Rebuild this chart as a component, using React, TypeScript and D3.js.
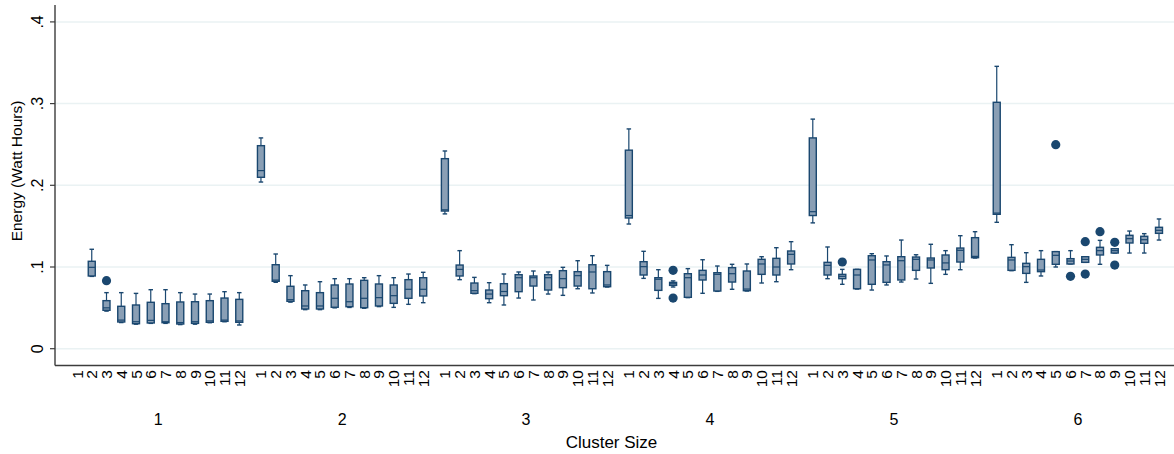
import React from "react";
import * as d3 from "d3";

// [lower whisker, q1, median, q3, upper whisker]; null = no data
type Box = [number, number, number, number, number] | null;

const groupLabels = ["1", "2", "3", "4", "5", "6"];
const categoryLabels = ["1", "2", "3", "4", "5", "6", "7", "8", "9", "10", "11", "12"];
const yTicks = [0, 0.1, 0.2, 0.3, 0.4];
const yTickLabels = ["0", ".1", ".2", ".3", ".4"];

const group1: Box[] = [
  null,
  [0.0885, 0.089, 0.0996, 0.107, 0.1217],
  [0.046, 0.047, 0.05, 0.0588, 0.0686],
  [0.032, 0.0327, 0.035, 0.0519, 0.0686],
  [0.03, 0.0306, 0.033, 0.0535, 0.0677],
  [0.031, 0.0315, 0.0347, 0.0568, 0.0722],
  [0.031, 0.0318, 0.033, 0.0551, 0.0722],
  [0.0295, 0.0302, 0.032, 0.0572, 0.0686],
  [0.03, 0.031, 0.033, 0.0575, 0.0669],
  [0.0318, 0.0323, 0.034, 0.0588, 0.0669],
  [0.033, 0.0335, 0.035, 0.062, 0.0698],
  [0.029, 0.0323, 0.034, 0.0604, 0.0686],
];
const group2: Box[] = [
  [0.204, 0.2098, 0.218, 0.2485, 0.258],
  [0.0813, 0.0825, 0.084, 0.1028, 0.1159],
  [0.057, 0.058, 0.06, 0.0764, 0.0894],
  [0.0478, 0.0486, 0.0523, 0.071, 0.078],
  [0.0478, 0.0486, 0.0523, 0.0686, 0.082],
  [0.05, 0.0507, 0.0617, 0.078, 0.0857],
  [0.0505, 0.0514, 0.0575, 0.0792, 0.0857],
  [0.0495, 0.0502, 0.0617, 0.0837, 0.0869],
  [0.0515, 0.0523, 0.0625, 0.0792, 0.0894],
  [0.0506, 0.0555, 0.0649, 0.078, 0.0869],
  [0.0543, 0.0617, 0.0727, 0.0845, 0.0914],
  [0.0563, 0.0645, 0.0727, 0.0869, 0.0935],
];
const group3: Box[] = [
  [0.165, 0.1685, 0.17, 0.2326, 0.242],
  [0.0845, 0.089, 0.0971, 0.1024, 0.12],
  [0.0674, 0.0678, 0.071, 0.0804, 0.0873],
  [0.0563, 0.0612, 0.0669, 0.0718, 0.0808],
  [0.0535, 0.0649, 0.07, 0.0796, 0.0914],
  [0.062, 0.0698, 0.0869, 0.0906, 0.0939],
  [0.0596, 0.0767, 0.0869, 0.089, 0.0951],
  [0.0669, 0.0718, 0.0869, 0.0906, 0.0939],
  [0.0653, 0.0747, 0.0857, 0.0955, 0.0996],
  [0.0734, 0.0767, 0.0894, 0.0943, 0.1077],
  [0.0682, 0.0734, 0.0939, 0.1028, 0.1138],
  [0.0755, 0.0759, 0.078, 0.0943, 0.102],
];
const group4: Box[] = [
  [0.1526, 0.16, 0.163, 0.243, 0.269],
  [0.0861, 0.0902, 0.1004, 0.1065, 0.1192],
  [0.0616, 0.0714, 0.085, 0.0869, 0.0967],
  [0.0755, 0.0775, 0.0795, 0.0812, 0.083],
  [0.0625, 0.0629, 0.0869, 0.0918, 0.098],
  [0.0678, 0.0841, 0.0902, 0.0959, 0.1089],
  [0.0702, 0.0706, 0.091, 0.093, 0.1012],
  [0.0727, 0.0816, 0.0918, 0.0992, 0.1033],
  [0.0706, 0.071, 0.073, 0.0951, 0.1037],
  [0.0804, 0.091, 0.1037, 0.1094, 0.1126],
  [0.082, 0.0902, 0.1, 0.1106, 0.1236],
  [0.0967, 0.1037, 0.1155, 0.1196, 0.131],
];
const group5: Box[] = [
  [0.154, 0.163, 0.1677, 0.258, 0.281],
  [0.0857, 0.0902, 0.102, 0.1057, 0.1245],
  [0.0788, 0.0857, 0.0886, 0.091, 0.0971],
  [0.073, 0.0734, 0.0902, 0.0971, 0.0971],
  [0.0718, 0.0788, 0.1086, 0.1138, 0.1163],
  [0.078, 0.0812, 0.1025, 0.1065, 0.1135],
  [0.0816, 0.0841, 0.1077, 0.1126, 0.133],
  [0.0853, 0.0959, 0.1094, 0.1122, 0.115],
  [0.08, 0.0988, 0.1086, 0.111, 0.1278],
  [0.091, 0.0967, 0.105, 0.1147, 0.12],
  [0.0967, 0.1061, 0.1204, 0.1232, 0.1383],
  [0.111, 0.1114, 0.113, 0.1359, 0.1432],
];
const group6: Box[] = [
  [0.1547, 0.1645, 0.166, 0.3016, 0.3456],
  [0.0955, 0.0959, 0.1086, 0.1118, 0.1273],
  [0.0812, 0.0922, 0.1004, 0.1045, 0.1175],
  [0.089, 0.0943, 0.0963, 0.1094, 0.12],
  [0.1, 0.1033, 0.1143, 0.1188, 0.1188],
  [0.1037, 0.1037, 0.1073, 0.1102, 0.12],
  [0.1057, 0.1057, 0.1094, 0.1126, 0.1126],
  [0.1033, 0.1147, 0.12, 0.1241, 0.1326],
  [0.1171, 0.1171, 0.12, 0.1224, 0.1224],
  [0.1171, 0.1294, 0.1347, 0.1388, 0.144],
  [0.1171, 0.129, 0.1334, 0.1376, 0.1408],
  [0.133, 0.1412, 0.1449, 0.1486, 0.1588],
];
const groups: Box[][] = [group1, group2, group3, group4, group5, group6];

// outliers: [group index, category index, value]
const outlierGroup = [0, 3, 3, 4, 5, 5, 5, 5, 5, 5, 5];
const outlierCategory = [2, 3, 3, 2, 4, 5, 6, 6, 7, 8, 8];
const outlierValue = [0.0833, 0.0959, 0.062, 0.1061, 0.2497, 0.0886, 0.131, 0.0914, 0.1432, 0.1302, 0.1024];

const W = 1174;
const H = 454;
const FONT = "'Liberation Sans', Arial, Helvetica, sans-serif";
const NAVY = "#1a476f";
const FILL = "#8a9fb5";
const GROUP_PITCH = 12.47;

export default function App() {
  const y = d3.scaleLinear().domain([0, 0.4]).range([348.7, 21.9]);
  const x = d3
    .scaleLinear()
    .domain([0, (groups.length - 1) * GROUP_PITCH + 11])
    .range([77, 1159]);
  const pos = (g: number, k: number) => x(g * GROUP_PITCH + k);
  const boxW = 7;
  const capW = 4.5;
  const axisY = 365.5;
  const axisX = 55;

  return (
    <svg
      width={W}
      height={H}
      style={{ position: "absolute", left: 0, top: 0, background: "#fff" }}
      fontFamily={FONT}
    >
      <rect x={0} y={0} width={W} height={H} fill="#ffffff" />
      {/* grid */}
      {yTicks.map((t, i) => (
        <line key={"g" + i} x1={axisX} x2={W} y1={y(t)} y2={y(t)} stroke="#eaf2f3" strokeWidth={1.5} />
      ))}
      {/* boxes */}
      {groups.map((grp, g) =>
        grp.map((b, k) => {
          if (!b) return null;
          const cx = pos(g, k);
          const [lo, q1, med, q3, hi] = b;
          return (
            <g key={`b${g}-${k}`}>
              <line x1={cx} x2={cx} y1={y(hi)} y2={y(q3)} stroke={NAVY} strokeWidth={1.2} />
              <line x1={cx} x2={cx} y1={y(q1)} y2={y(lo)} stroke={NAVY} strokeWidth={1.2} />
              <line x1={cx - capW / 2} x2={cx + capW / 2} y1={y(hi)} y2={y(hi)} stroke={NAVY} strokeWidth={1.4} />
              <line x1={cx - capW / 2} x2={cx + capW / 2} y1={y(lo)} y2={y(lo)} stroke={NAVY} strokeWidth={1.4} />
              <rect
                x={cx - boxW / 2}
                y={y(q3)}
                width={boxW}
                height={Math.max(1, y(q1) - y(q3))}
                fill={FILL}
                stroke={NAVY}
                strokeWidth={1.4}
              />
              <line x1={cx - boxW / 2} x2={cx + boxW / 2} y1={y(med)} y2={y(med)} stroke={NAVY} strokeWidth={1.2} />
            </g>
          );
        })
      )}
      {/* outliers */}
      {outlierValue.map((v, i) => (
        <circle key={"o" + i} cx={pos(outlierGroup[i], outlierCategory[i])} cy={y(v)} r={4.6} fill={NAVY} />
      ))}
      {/* axes */}
      <line x1={axisX} x2={axisX} y1={5} y2={axisY} stroke="#3c3c3c" strokeWidth={1.4} />
      <line x1={axisX} x2={W} y1={axisY} y2={axisY} stroke="#3c3c3c" strokeWidth={1.4} />
      {yTicks.map((t, i) => (
        <g key={"yt" + i}>
          <line x1={axisX - 5} x2={axisX} y1={y(t)} y2={y(t)} stroke="#3c3c3c" strokeWidth={1.2} />
          <text
            transform={`translate(43,${y(t)}) rotate(-90)`}
            textAnchor="middle"
            fontSize={16}
            fill="#000"
          >
            {yTickLabels[i]}
          </text>
        </g>
      ))}
      <text transform="translate(22,171) rotate(-90)" textAnchor="middle" fontSize={15.5} fill="#000">
        Energy (Watt Hours)
      </text>
      {/* category labels */}
      {groups.map((grp, g) =>
        categoryLabels.map((lab, k) => (
          <text
            key={`c${g}-${k}`}
            transform={`translate(${pos(g, k) + 5.5},370) rotate(-90)`}
            textAnchor="end"
            fontSize={15.5}
            fill="#000"
          >
            {lab}
          </text>
        ))
      )}
      {/* group labels */}
      {groupLabels.map((lab, g) => (
        <text key={"gl" + g} x={pos(g, 5.5)} y={425} textAnchor="middle" fontSize={16} fill="#000">
          {lab}
        </text>
      ))}
      <text x={611.5} y={448} textAnchor="middle" fontSize={17} fill="#000">
        Cluster Size
      </text>
    </svg>
  );
}
